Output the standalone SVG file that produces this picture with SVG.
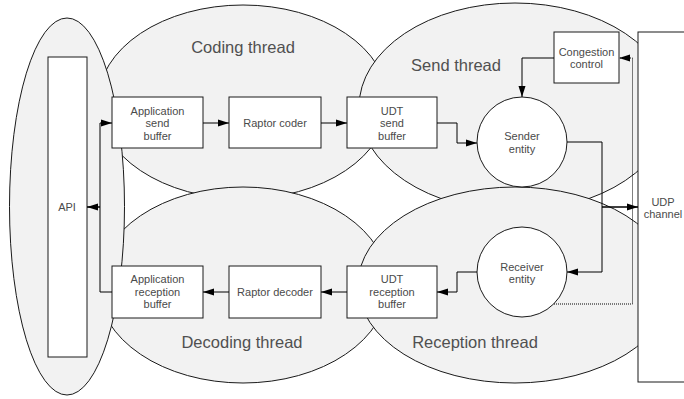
<svg xmlns="http://www.w3.org/2000/svg" width="684" height="399" viewBox="0 0 684 399">
<style>
.th{fill:#f2f2f2;stroke:#1a1a1a;stroke-width:1}
.bx{fill:#fff;stroke:#1a1a1a;stroke-width:1}
.t{font-family:"Liberation Sans",Arial,sans-serif;font-size:11px;fill:#4a4a4a;text-anchor:middle}
.tl{font-family:"Liberation Sans",Arial,sans-serif;font-size:16.5px;fill:#505050;text-anchor:middle}
.c{fill:none;stroke:#000;stroke-width:1}
.d{fill:none;stroke:#000;stroke-width:1;stroke-dasharray:1 1}
</style>
<defs>
<marker id="ah" markerUnits="userSpaceOnUse" markerWidth="11" markerHeight="8" refX="11" refY="4" orient="auto">
<path d="M0,0.5 L11,4 L0,7.5 z" fill="#000"/>
</marker>
</defs>
<rect width="684" height="399" fill="#fff"/>
<g id="coding-thread"><ellipse class="th" cx="243" cy="102" rx="145" ry="97"/><text class="tl" x="243" y="53">Coding thread</text></g>
<g id="send-thread"><ellipse class="th" cx="515" cy="107" rx="156" ry="104"/><text class="tl" x="456" y="71">Send thread</text></g>
<g id="decoding-thread"><ellipse class="th" cx="243" cy="285" rx="145" ry="98"/><text class="tl" x="242" y="348">Decoding thread</text></g>
<g id="reception-thread"><ellipse class="th" cx="515" cy="285" rx="157" ry="98"/><text class="tl" x="475" y="348">Reception thread</text></g>
<g id="api"><ellipse class="th" cx="67" cy="206.5" rx="57.5" ry="188.5"/><rect class="bx" x="48" y="57" width="39" height="300"/><text class="t" x="67" y="211">API</text></g>
<g id="udp-channel"><rect class="bx" x="638" y="32" width="60" height="350"/><text class="t" x="663" y="206">UDP</text><text class="t" x="663" y="218">channel</text></g>
<g id="app-send-buffer"><rect class="bx" x="112" y="97" width="91" height="51"/><text class="t" x="157.5" y="114.5">Application</text><text class="t" x="157.5" y="127">send</text><text class="t" x="157.5" y="139.5">buffer</text></g>
<g id="raptor-coder"><rect class="bx" x="229" y="97" width="92" height="51"/><text class="t" x="275" y="127">Raptor coder</text></g>
<g id="udt-send-buffer"><rect class="bx" x="347" y="97" width="90" height="51"/><text class="t" x="392" y="114.5">UDT</text><text class="t" x="392" y="127">send</text><text class="t" x="392" y="139.5">buffer</text></g>
<g id="congestion-control"><rect class="bx" x="554" y="32" width="65" height="51"/><text class="t" x="586.5" y="56">Congestion</text><text class="t" x="586.5" y="68">control</text></g>
<g id="sender-entity"><circle class="bx" cx="522" cy="142" r="45"/><text class="t" x="522" y="140">Sender</text><text class="t" x="522" y="153">entity</text></g>
<g id="receiver-entity"><circle class="bx" cx="522" cy="272" r="45"/><text class="t" x="522" y="271">Receiver</text><text class="t" x="522" y="283">entity</text></g>
<g id="udt-reception-buffer"><rect class="bx" x="347" y="266" width="90" height="52"/><text class="t" x="392" y="283">UDT</text><text class="t" x="392" y="296">reception</text><text class="t" x="392" y="308">buffer</text></g>
<g id="raptor-decoder"><rect class="bx" x="229" y="266" width="92" height="52"/><text class="t" x="275" y="296">Raptor decoder</text></g>
<g id="app-reception-buffer"><rect class="bx" x="112" y="266" width="91" height="52"/><text class="t" x="157.5" y="283">Application</text><text class="t" x="157.5" y="296">reception</text><text class="t" x="157.5" y="308">buffer</text></g>
<g id="connectors">
<path class="c" d="M87,207 L100,207 L100,123 L112,123" marker-end="url(#ah)"/>
<path class="c" d="M112,292 L100,292 L100,207 L87,207" marker-end="url(#ah)"/>
<path class="c" d="M203,123 L229,123" marker-end="url(#ah)"/>
<path class="c" d="M321,123 L347,123" marker-end="url(#ah)"/>
<path class="c" d="M437,123 L457,123 L457,143 L477,143" marker-end="url(#ah)"/>
<path class="c" d="M554,58 L522,58 L522,97" marker-end="url(#ah)"/>
<path class="c" d="M567,142 L602,142 L602,207 L638,207" marker-end="url(#ah)"/>
<path class="c" d="M638,207 L602,207 L602,272 L567,272" marker-end="url(#ah)"/>
<path class="d" d="M554,304 L632.5,304 L632.5,58 L619,58" marker-end="url(#ah)"/>
<path class="c" d="M477,272 L457,272 L457,292 L437,292" marker-end="url(#ah)"/>
<path class="c" d="M347,292 L321,292" marker-end="url(#ah)"/>
<path class="c" d="M229,292 L203,292" marker-end="url(#ah)"/>
</g>
</svg>
